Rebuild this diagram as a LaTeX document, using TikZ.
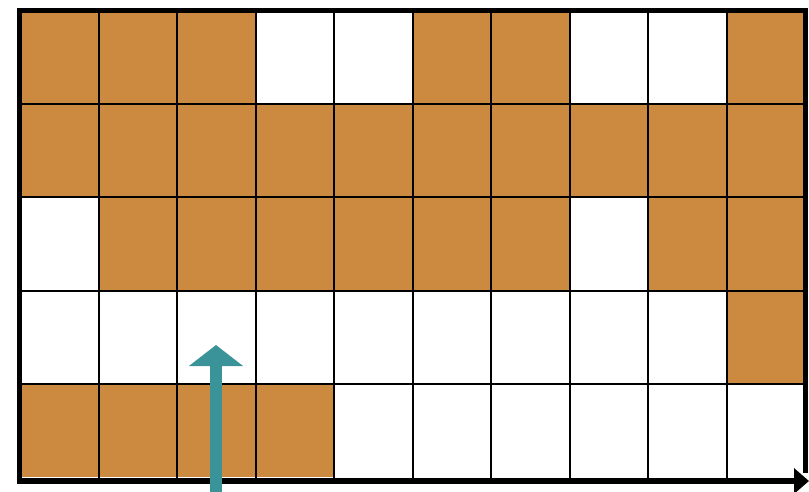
\documentclass[tikz,border=0pt]{standalone}
\usetikzlibrary{arrows.meta}
\definecolor{cellorange}{RGB}{204,138,64}
\definecolor{arrowteal}{RGB}{58,147,153}
\tikzset{
  cellfill/.style={fill=cellorange},
  gridline/.style={draw=black, line width=2pt},
  framebox/.style={draw=black, line width=5pt, line cap=rect},
  axisline/.style={draw=black, line width=6pt, -{Triangle[length=15pt,width=25pt]}},
  tealarrow/.style={draw=arrowteal, line width=12pt, -{Triangle[length=21pt,width=53pt]}}
}
\begin{document}
\begin{tikzpicture}[x=1pt,y=-1pt]
\useasboundingbox (0,0) rectangle (809,491);
% cells: 1 = orange, 0 = white
\foreach \rowvals [count=\r from 0] in {
  {1,1,1,0,0,1,1,0,0,1},
  {1,1,1,1,1,1,1,1,1,1},
  {0,1,1,1,1,1,1,0,1,1},
  {0,0,0,0,0,0,0,0,0,1},
  {1,1,1,1,0,0,0,0,0,0}}{
  \foreach \v [count=\c from 0] in \rowvals {
    \ifnum\v=1
      \fill[cellorange] ({20+78.5*\c},{11+93.2*\r}) rectangle ({20+78.5*(\c+1)},{11+93.2*(\r+1)});
    \fi
  }
}
% grid lines
\foreach \c in {1,...,9} {
  \draw[gridline] ({20+78.5*\c},11) -- ({20+78.5*\c},478);
}
\foreach \r in {1,...,4} {
  \draw[gridline] (20,{11+93.2*\r}) -- (805,{11+93.2*\r});
}
% frame
\coordinate (bl) at (19.5,480);
\coordinate (tl) at (19.5,10.5);
\coordinate (tr) at (805.5,10.5);
\coordinate (br) at (805.5,470);
\draw[framebox] (bl) -- (tl) -- (tr) -- (br);
% x axis
\coordinate (axstart) at (17,481);
\coordinate (axend) at (809,481);
\draw[axisline] (axstart) -- (axend);
% teal arrow
\coordinate (tstart) at (216,492);
\coordinate (tend) at (216,345);
\draw[tealarrow] (tstart) -- (tend);
\end{tikzpicture}
\end{document}
